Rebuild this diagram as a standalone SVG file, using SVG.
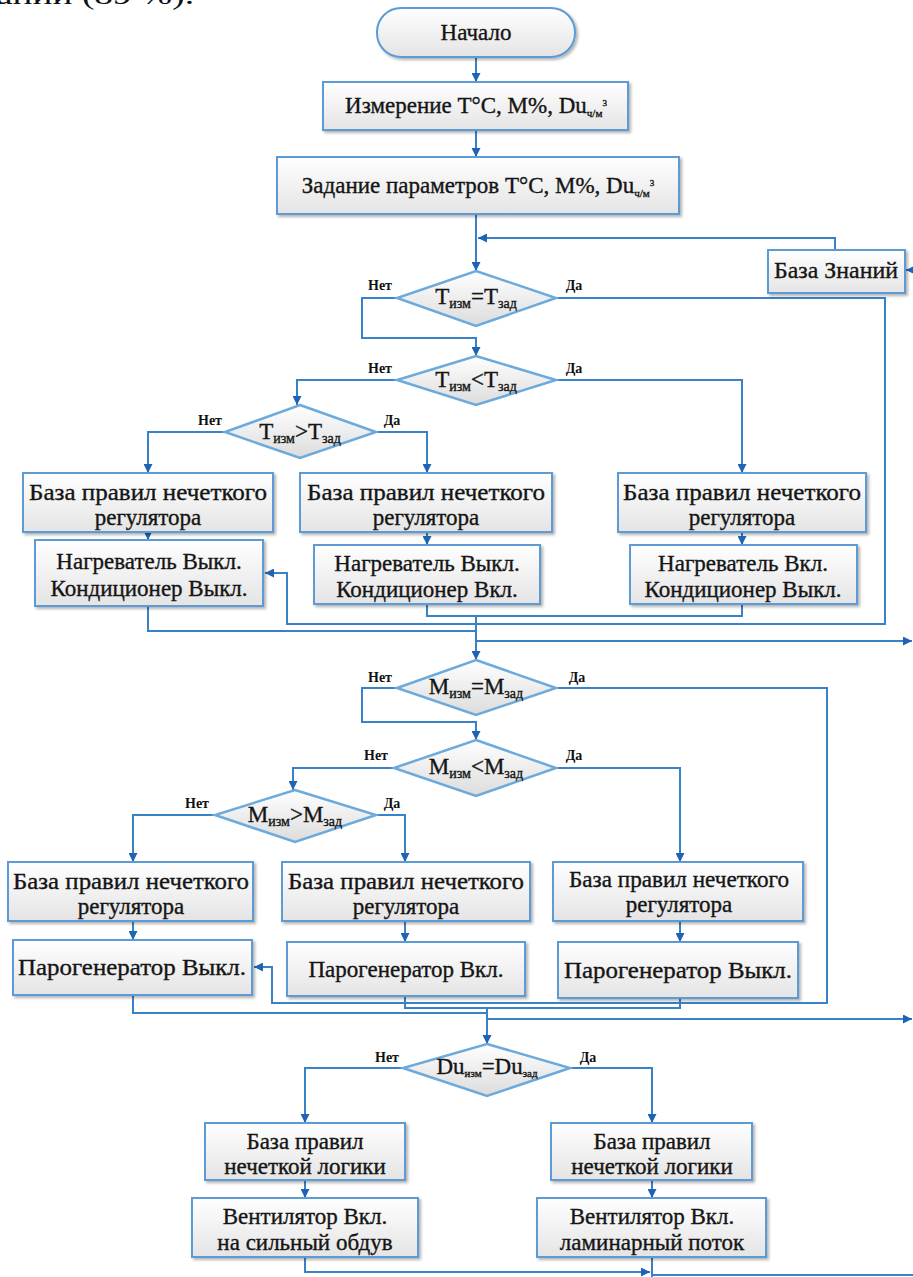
<svg xmlns="http://www.w3.org/2000/svg" width="913" height="1277" viewBox="0 0 913 1277" font-family="Liberation Serif, Times New Roman, serif">
<defs>
<linearGradient id="g" x1="0" y1="0" x2="0" y2="1">
<stop offset="0" stop-color="#ffffff"/>
<stop offset="1" stop-color="#e4e4e4"/>
</linearGradient>
<linearGradient id="gd" x1="0" y1="0" x2="0" y2="1">
<stop offset="0" stop-color="#ffffff"/>
<stop offset="1" stop-color="#dcdcdc"/>
</linearGradient>
<filter id="sh" x="-10%" y="-10%" width="120%" height="130%">
<feDropShadow dx="2" dy="2" stdDeviation="1.5" flood-color="#000" flood-opacity="0.3"/>
</filter>
<marker id="ar" viewBox="0 0 10 10" refX="10" refY="5" markerWidth="9" markerHeight="9" markerUnits="userSpaceOnUse" orient="auto">
<path d="M0,0 L10,5 L0,10 z" fill="#1f64b4"/>
</marker>
</defs>
<style>
.box{fill:url(#g);stroke:#5b9bd5;stroke-width:2;filter:url(#sh)}
.dia{fill:url(#gd);stroke:#6aaadc;stroke-width:2.5}
.c{fill:none;stroke:#3a82c8;stroke-width:2}
text{font-family:'Liberation Serif',serif}
.t{font-size:23px;fill:#151515;stroke:#151515;stroke-width:0.35;text-anchor:middle}
.lb{font-size:14px;font-weight:bold;fill:#111;text-anchor:middle}
</style>
<text x="-4" y="4" font-size="28" fill="#111" textLength="198" lengthAdjust="spacingAndGlyphs">ании (89 %).</text>

<g id="connectors">
<path class="c" d="M476,57 V82" marker-end="url(#ar)"/>
<path class="c" d="M476,130 V157" marker-end="url(#ar)"/>
<path class="c" d="M476,214 V271" marker-end="url(#ar)"/>
<path class="c" d="M835,250 V238 H478" marker-end="url(#ar)"/>
<path class="c" d="M913,270 H906" marker-end="url(#ar)"/>
<path class="c" d="M397,298 H362 V338 H476 V356" marker-end="url(#ar)"/>
<path class="c" d="M556,298 H885 V624 H287 V573 H265" marker-end="url(#ar)"/>
<path class="c" d="M397,380 H297 V405" marker-end="url(#ar)"/>
<path class="c" d="M556,380 H742 V473" marker-end="url(#ar)"/>
<path class="c" d="M225,432 H148 V473" marker-end="url(#ar)"/>
<path class="c" d="M376,432 H427 V473" marker-end="url(#ar)"/>
<path class="c" d="M148,532 V540" marker-end="url(#ar)"/>
<path class="c" d="M427,532 V545" marker-end="url(#ar)"/>
<path class="c" d="M742,532 V545" marker-end="url(#ar)"/>
<path class="c" d="M427,604 V616 H742 V604"/>
<path class="c" d="M148,606 V631 H476"/>
<path class="c" d="M476,616 V660" marker-end="url(#ar)"/>
<path class="c" d="M476,641 H912" marker-end="url(#ar)"/>

<path class="c" d="M397,688 H362 V722 H476 V740" marker-end="url(#ar)"/>
<path class="c" d="M556,688 H827 V1003 H272 V967 H254" marker-end="url(#ar)"/>
<path class="c" d="M394,768 H293 V790" marker-end="url(#ar)"/>
<path class="c" d="M556,768 H680 V862" marker-end="url(#ar)"/>
<path class="c" d="M215,815 H133 V862" marker-end="url(#ar)"/>
<path class="c" d="M376,815 H405 V862" marker-end="url(#ar)"/>
<path class="c" d="M133,921 V940" marker-end="url(#ar)"/>
<path class="c" d="M405,921 V942" marker-end="url(#ar)"/>
<path class="c" d="M680,921 V942" marker-end="url(#ar)"/>
<path class="c" d="M405,996 V1008 H680 V998"/>
<path class="c" d="M133,995 V1013 H487"/>
<path class="c" d="M487,1008 V1044" marker-end="url(#ar)"/>
<path class="c" d="M487,1019 H912" marker-end="url(#ar)"/>

<path class="c" d="M403,1068 H305 V1123" marker-end="url(#ar)"/>
<path class="c" d="M570,1068 H652 V1123" marker-end="url(#ar)"/>
<path class="c" d="M305,1180 V1198" marker-end="url(#ar)"/>
<path class="c" d="M652,1180 V1198" marker-end="url(#ar)"/>
<path class="c" d="M305,1257 V1272 H650" marker-end="url(#ar)"/>
<path class="c" d="M652,1257 V1277 M652,1275 H913"/>
</g>

<g id="start">
<rect class="box" x="377" y="8" width="198" height="49" rx="24"/>
<text class="t" x="476" y="40" font-size="22">Начало</text>
</g>
<g id="measure">
<rect class="box" x="323" y="82" width="305" height="48"/>
<text class="t" x="476" y="113" font-size="22">Измерение T°C, M%, Du<tspan font-size="11" dy="4">ч/м</tspan><tspan font-size="9" dy="-11">3</tspan></text>
</g>
<g id="setparams">
<rect class="box" x="277" y="157" width="402" height="57"/>
<text class="t" x="478" y="193" font-size="22">Задание параметров T°C, M%, Du<tspan font-size="11" dy="4">ч/м</tspan><tspan font-size="9" dy="-11">3</tspan></text>
</g>
<g id="kb">
<rect class="box" x="768" y="250" width="137" height="43"/>
<text class="t" x="836" y="278" font-size="19" stroke-width="0.6" textLength="124" lengthAdjust="spacingAndGlyphs">База Знаний</text>
</g>

<g id="d1">
<path class="dia" d="M476,271 L556,298 L476,326 L397,298 Z"/>
<text class="t" x="476" y="304" font-size="22">T<tspan font-size="14" dy="4">изм</tspan><tspan dy="-4">=T</tspan><tspan font-size="14" dy="4">зад</tspan></text>
<text class="lb" x="380" y="290">Нет</text>
<text class="lb" x="574" y="290">Да</text>
</g>
<g id="d2">
<path class="dia" d="M476,356 L556,380 L476,405 L397,380 Z"/>
<text class="t" x="476" y="387" font-size="22">T<tspan font-size="14" dy="4">изм</tspan><tspan dy="-4">&lt;T</tspan><tspan font-size="14" dy="4">зад</tspan></text>
<text class="lb" x="380" y="373">Нет</text>
<text class="lb" x="574" y="373">Да</text>
</g>
<g id="d3">
<path class="dia" d="M300,405 L376,432 L300,458 L225,432 Z"/>
<text class="t" x="300" y="439" font-size="22">T<tspan font-size="14" dy="4">изм</tspan><tspan dy="-4">&gt;T</tspan><tspan font-size="14" dy="4">зад</tspan></text>
<text class="lb" x="210" y="425">Нет</text>
<text class="lb" x="392" y="425">Да</text>
</g>

<g id="a1">
<rect class="box" x="23" y="473" width="250" height="59"/>
<text class="t" x="148" y="500" textLength="238" lengthAdjust="spacingAndGlyphs">База правил нечеткого</text>
<text class="t" x="148" y="525">регулятора</text>
</g>
<g id="b1">
<rect class="box" x="300" y="473" width="252" height="59"/>
<text class="t" x="426" y="500" textLength="238" lengthAdjust="spacingAndGlyphs">База правил нечеткого</text>
<text class="t" x="426" y="525">регулятора</text>
</g>
<g id="c1">
<rect class="box" x="618" y="473" width="248" height="59"/>
<text class="t" x="742" y="500" textLength="238" lengthAdjust="spacingAndGlyphs">База правил нечеткого</text>
<text class="t" x="742" y="525">регулятора</text>
</g>
<g id="a2">
<rect class="box" x="35" y="540" width="228" height="66"/>
<text class="t" x="149" y="569">Нагреватель Выкл.</text>
<text class="t" x="149" y="596">Кондиционер Выкл.</text>
</g>
<g id="b2">
<rect class="box" x="314" y="545" width="226" height="59"/>
<text class="t" x="427" y="571">Нагреватель Выкл.</text>
<text class="t" x="427" y="597">Кондиционер Вкл.</text>
</g>
<g id="c2">
<rect class="box" x="630" y="545" width="227" height="59"/>
<text class="t" x="743" y="571">Нагреватель Вкл.</text>
<text class="t" x="743" y="597">Кондиционер Выкл.</text>
</g>

<g id="d4">
<path class="dia" d="M476,660 L556,688 L476,715 L397,688 Z"/>
<text class="t" x="476" y="694" font-size="22">M<tspan font-size="14" dy="4">изм</tspan><tspan dy="-4">=M</tspan><tspan font-size="14" dy="4">зад</tspan></text>
<text class="lb" x="380" y="682">Нет</text>
<text class="lb" x="577" y="682">Да</text>
</g>
<g id="d5">
<path class="dia" d="M476,740 L556,768 L476,796 L394,768 Z"/>
<text class="t" x="476" y="774" font-size="22">M<tspan font-size="14" dy="4">изм</tspan><tspan dy="-4">&lt;M</tspan><tspan font-size="14" dy="4">зад</tspan></text>
<text class="lb" x="376" y="760">Нет</text>
<text class="lb" x="574" y="760">Да</text>
</g>
<g id="d6">
<path class="dia" d="M295,790 L376,815 L295,842 L215,815 Z"/>
<text class="t" x="295" y="822" font-size="22">M<tspan font-size="14" dy="4">изм</tspan><tspan dy="-4">&gt;M</tspan><tspan font-size="14" dy="4">зад</tspan></text>
<text class="lb" x="197" y="808">Нет</text>
<text class="lb" x="392" y="808">Да</text>
</g>

<g id="a3">
<rect class="box" x="8" y="862" width="245" height="59"/>
<text class="t" x="131" y="889" textLength="236" lengthAdjust="spacingAndGlyphs">База правил нечеткого</text>
<text class="t" x="131" y="914">регулятора</text>
</g>
<g id="b3">
<rect class="box" x="282" y="862" width="248" height="59"/>
<text class="t" x="406" y="889" textLength="236" lengthAdjust="spacingAndGlyphs">База правил нечеткого</text>
<text class="t" x="406" y="914">регулятора</text>
</g>
<g id="c3">
<rect class="box" x="553" y="862" width="250" height="59"/>
<text class="t" x="679" y="887" font-size="20" textLength="220" lengthAdjust="spacingAndGlyphs">База правил нечеткого</text>
<text class="t" x="679" y="912" font-size="20">регулятора</text>
</g>
<g id="a4">
<rect class="box" x="13" y="940" width="239" height="55"/>
<text class="t" x="132" y="975" textLength="228" lengthAdjust="spacingAndGlyphs">Парогенератор Выкл.</text>
</g>
<g id="b4">
<rect class="box" x="287" y="942" width="238" height="54"/>
<text class="t" x="406" y="977">Парогенератор Вкл.</text>
</g>
<g id="c4">
<rect class="box" x="558" y="942" width="240" height="56"/>
<text class="t" x="678" y="978" textLength="228" lengthAdjust="spacingAndGlyphs">Парогенератор Выкл.</text>
</g>

<g id="d7">
<path class="dia" d="M487,1044 L570,1068 L487,1096 L403,1068 Z"/>
<text class="t" x="487" y="1074" font-size="19">Du<tspan font-size="11" dy="3">изм</tspan><tspan dy="-3">=Du</tspan><tspan font-size="11" dy="3">зад</tspan></text>
<text class="lb" x="387" y="1062">Нет</text>
<text class="lb" x="588" y="1062">Да</text>
</g>
<g id="e1l">
<rect class="box" x="205" y="1123" width="200" height="57"/>
<text class="t" x="305" y="1149">База правил</text>
<text class="t" x="305" y="1174">нечеткой логики</text>
</g>
<g id="e1r">
<rect class="box" x="551" y="1123" width="201" height="57"/>
<text class="t" x="652" y="1149">База правил</text>
<text class="t" x="652" y="1174">нечеткой логики</text>
</g>
<g id="e2l">
<rect class="box" x="192" y="1198" width="226" height="59"/>
<text class="t" x="305" y="1224">Вентилятор Вкл.</text>
<text class="t" x="305" y="1250">на сильный обдув</text>
</g>
<g id="e2r">
<rect class="box" x="537" y="1198" width="229" height="59"/>
<text class="t" x="652" y="1224">Вентилятор Вкл.</text>
<text class="t" x="652" y="1250">ламинарный поток</text>
</g>
</svg>
